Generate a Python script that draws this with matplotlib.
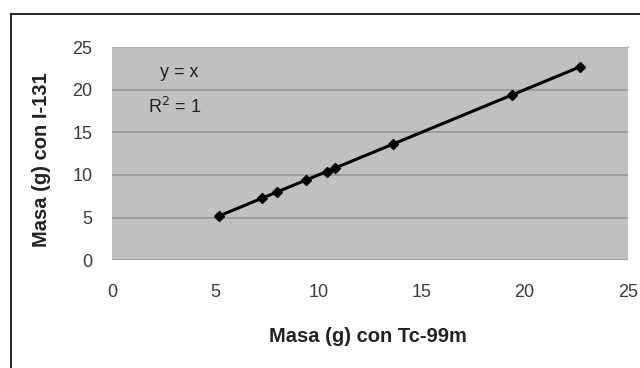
import matplotlib
matplotlib.use("Agg")
import matplotlib.pyplot as plt
from matplotlib.lines import Line2D

# Masa (g) medida con cada radionúclido
masa_tc = [5.2, 7.25, 8.0, 9.4, 10.4, 10.8, 13.6, 19.4, 22.7]
masa_i = [5.2, 7.25, 8.0, 9.4, 10.4, 10.8, 13.6, 19.4, 22.7]
ticks = [0, 5, 10, 15, 20, 25]

plt.rcParams['font.family'] = ['Liberation Sans', 'DejaVu Sans']

fig = plt.figure(figsize=(6.4, 3.68), dpi=100)
ax = fig.add_axes([0.175, 0.293, 0.806, 0.579])
ax.set_facecolor('#c0c0c0')

# línea de tendencia y = x sobre el rango de los datos
x_fit = [min(masa_tc), max(masa_tc)]
ax.plot(x_fit, x_fit, color='black', linewidth=2.2, zorder=3)
ax.plot(masa_tc, masa_i, linestyle='none', marker='D', markersize=5.5,
        color='black', zorder=4)

ax.set_xlim(0, 25)
ax.set_ylim(0, 25)
ax.set_xticks(ticks)
ax.set_yticks(ticks)
ax.yaxis.grid(True, color='#9a9a9a', linewidth=1.3)
ax.set_axisbelow(True)
ax.tick_params(axis='both', length=0, labelsize=13, colors='#3a3a3a')
ax.tick_params(axis='x', pad=17)
ax.tick_params(axis='y', pad=14)
for s in ax.spines.values():
    s.set_visible(False)
ax.spines['top'].set_visible(True)
ax.spines['top'].set_color('#b0b0b0')

ax.text(0.093, 0.86, 'y = x', transform=ax.transAxes, fontsize=13, color='#222222')
ax.text(0.07, 0.69, 'R$^2$ = 1', transform=ax.transAxes, fontsize=13, color='#222222')

fig.text(368 / 640, 1 - 337 / 368, 'Masa (g) con Tc-99m', ha='center', va='center',
         fontsize=14.5, fontweight='bold', color='#222222')
fig.text(42 / 640, 1 - 160 / 368, 'Masa (g) con I-131', ha='center', va='center',
         rotation=90, fontsize=14.5, fontweight='bold', color='#222222')

# marco exterior
fig.add_artist(Line2D([11 / 640, 1], [1 - 14 / 368] * 2, color='black', linewidth=1.2,
                      transform=fig.transFigure))
fig.add_artist(Line2D([11 / 640] * 2, [0, 1 - 14 / 368], color='black', linewidth=1.2,
                      transform=fig.transFigure))

fig.savefig('out.png', dpi=100)
